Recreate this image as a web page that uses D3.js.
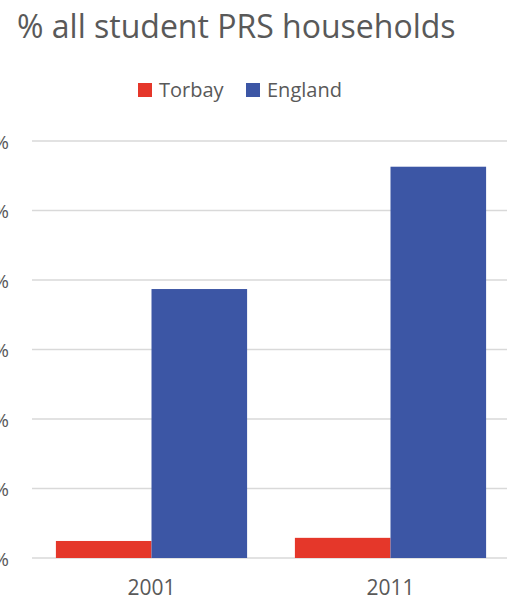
<!DOCTYPE html>
<html>
<head>
<meta charset="utf-8">
<script src="https://cdn.jsdelivr.net/npm/d3@7"></script>
<style>
  body { margin: 0; background: #fff; }
  text { font-family: "Open Sans", sans-serif; fill: #595959; }
</style>
</head>
<body>
<div id="chart"></div>
<script>
// data
const years = ["2001", "2011"];
const seriesNames = ["Torbay", "England"];
const torbay = [0.245, 0.29];
const england = [3.87, 5.63];
const yTicks = [0, 1, 2, 3, 4, 5, 6];

const colors = { Torbay: "#E5372A", England: "#3C56A5" };

const width = 507, height = 600;
const margin = { top: 141, bottom: 42, left: 32, right: -3 };

const svg = d3.select("#chart").append("svg")
    .attr("width", width)
    .attr("height", height);

const data = years.map((y, i) => ({ year: y, Torbay: torbay[i], England: england[i] }));

const x0 = d3.scaleBand()
    .domain(years)
    .range([margin.left, width - margin.right])
    .paddingInner(0.2)
    .paddingOuter(0.1);

const x1 = d3.scaleBand()
    .domain(seriesNames)
    .range([0, x0.bandwidth()]);

const y = d3.scaleLinear()
    .domain([0, 6])
    .range([height - margin.bottom, margin.top]);

// gridlines
svg.append("g")
  .selectAll("line")
  .data(yTicks)
  .join("line")
    .attr("x1", margin.left)
    .attr("x2", width - margin.right)
    .attr("y1", d => y(d))
    .attr("y2", d => y(d))
    .attr("stroke", "#d9d9d9")
    .attr("stroke-width", 1.3);

// y labels (cut off at left like the reference)
svg.append("g")
  .selectAll("text")
  .data(yTicks)
  .join("text")
    .attr("x", 9)
    .attr("y", d => y(d))
    .attr("dy", "0.4em")
    .attr("text-anchor", "end")
    .style("font-size", "19px")
    .text(d => d + "%");

// bars
const group = svg.append("g")
  .selectAll("g")
  .data(data)
  .join("g")
    .attr("transform", d => "translate(" + x0(d.year) + ",0)");

group.selectAll("rect")
  .data(d => seriesNames.map(k => ({ key: k, value: d[k] })))
  .join("rect")
    .attr("x", d => x1(d.key))
    .attr("width", x1.bandwidth())
    .attr("y", d => y(d.value))
    .attr("height", d => y(0) - y(d.value))
    .attr("fill", d => colors[d.key]);

// x labels
svg.append("g")
  .selectAll("text")
  .data(years)
  .join("text")
    .attr("x", d => x0(d) + x0.bandwidth() / 2)
    .attr("y", 595)
    .attr("text-anchor", "middle")
    .style("font-size", "21px")
    .text(d => d);

// title
svg.append("text")
    .attr("x", 17)
    .attr("y", 38)
    .style("font-size", "32px")
    .text("% all student PRS households");

// legend
const legend = svg.append("g")
  .selectAll("g")
  .data(seriesNames)
  .join("g")
    .attr("transform", (d, i) => "translate(" + (i == 0 ? 138 : 246) + ",83)");

legend.append("rect")
    .attr("width", 14)
    .attr("height", 14)
    .attr("fill", d => colors[d]);

legend.append("text")
    .attr("x", 21)
    .attr("y", 14)
    .style("font-size", "20px")
    .text(d => d);
</script>
</body>
</html>
